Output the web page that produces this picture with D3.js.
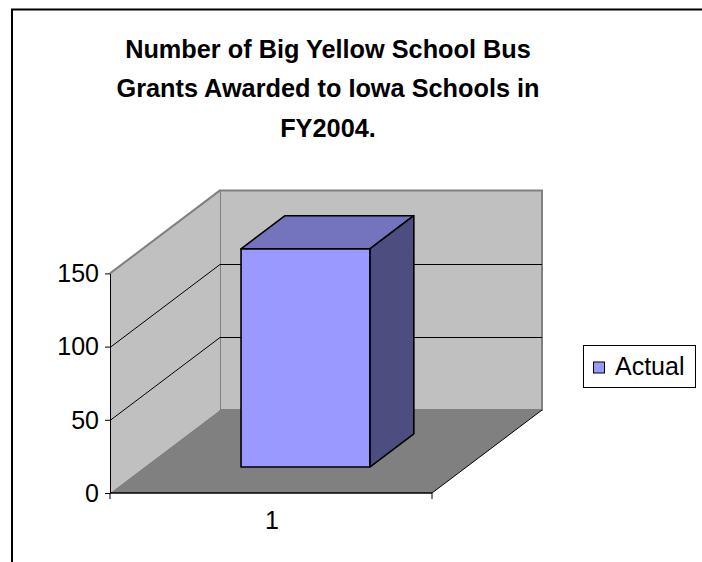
<!DOCTYPE html>
<html>
<head>
<meta charset="utf-8">
<script src="https://cdn.jsdelivr.net/npm/d3@7"></script>
<style>
  html, body { margin: 0; padding: 0; background: #fff; }
  svg { display: block; }
  text { font-family: Arial, "Liberation Sans", sans-serif; fill: #000; }
</style>
</head>
<body>
<svg id="chart" width="702" height="562"></svg>
<script>
// ---- data ----
const titleLines = ["Number of Big Yellow School Bus", "Grants Awarded to Iowa Schools in", "FY2004."];
const categories = ["1"];
const seriesName = "Actual";
const actualValues = [149];
const yTicks = [0, 50, 100, 150];
const gridValues = [50, 100];

// ---- layout ----
const svg = d3.select("#chart");
const W = 702, H = 562;
const depthX = 110, depthY = -83;          // 3D floor depth offset
const barDepthStart = 0.313, barDepthEnd = 0.713;

const x = d3.scaleBand().domain(categories).range([110, 432]).paddingInner(0.6).paddingOuter(0.3);
const y = d3.scaleLinear().domain([0, 150]).range([493, 273.4]);

// outer border
svg.append("rect").attr("x", 12).attr("y", 9.5).attr("width", W + 20).attr("height", H + 20)
  .attr("fill", "#fff").attr("stroke", "#000").attr("stroke-width", 2);

// title
svg.append("g").selectAll("text").data(titleLines).join("text")
  .attr("x", 328).attr("y", (d, i) => 58 + i * 39.3)
  .attr("text-anchor", "middle").attr("font-weight", "bold").attr("font-size", 25.3)
  .text(d => d);

const x0 = x.range()[0], x1 = x.range()[1];
const yTop = y(150), yBase = y(0);
const line = d3.line();

// back wall
svg.append("path")
  .attr("d", line([[x0 + depthX, yTop + depthY], [x1 + depthX, yTop + depthY], [x1 + depthX, yBase + depthY], [x0 + depthX, yBase + depthY]]) + "Z")
  .attr("fill", "#C0C0C0").attr("stroke", "#808080").attr("stroke-width", 2);
// left wall
svg.append("path")
  .attr("d", line([[x0, yTop], [x0 + depthX, yTop + depthY], [x0 + depthX, yBase + depthY], [x0, yBase]]) + "Z")
  .attr("fill", "#C0C0C0").attr("stroke", "none");
svg.append("path")
  .attr("d", line([[x0, yTop], [x0 + depthX, yTop + depthY]]))
  .attr("fill", "none").attr("stroke", "#808080").attr("stroke-width", 2);
// floor
svg.append("path")
  .attr("d", line([[x0, yBase], [x1, yBase], [x1 + depthX, yBase + depthY], [x0 + depthX, yBase + depthY]]) + "Z")
  .attr("fill", "#808080").attr("stroke", "none");
svg.append("path")
  .attr("d", line([[x1, yBase], [x1 + depthX, yBase + depthY]]))
  .attr("fill", "none").attr("stroke", "#000").attr("stroke-width", 1);

// gridlines
const grid = svg.append("g").attr("fill", "none").attr("stroke", "#000").attr("stroke-width", 1);
gridValues.forEach(v => {
  const yy = Math.round(y(v)) + 0.5;
  grid.append("path").attr("d", line([[x0, yy], [x0 + depthX, yy + depthY], [x1 + depthX, yy + depthY]]));
});

// bar
const bar = svg.append("g").attr("stroke", "#000").attr("stroke-width", 1.6).attr("stroke-linejoin", "round");
categories.forEach((c, i) => {
  const v = actualValues[i];
  const fx0 = x(c) + depthX * barDepthStart, fx1 = x(c) + x.bandwidth() + depthX * barDepthStart;
  const fyTop = y(v) + depthY * barDepthStart, fyBot = y(0) + depthY * barDepthStart;
  const dx = depthX * (barDepthEnd - barDepthStart), dy = depthY * (barDepthEnd - barDepthStart);
  // top face
  bar.append("path").attr("fill", "#7373BE")
    .attr("d", line([[fx0, fyTop], [fx1, fyTop], [fx1 + dx, fyTop + dy], [fx0 + dx, fyTop + dy]]) + "Z");
  // side face
  bar.append("path").attr("fill", "#4D4D7F")
    .attr("d", line([[fx1, fyTop], [fx1 + dx, fyTop + dy], [fx1 + dx, fyBot + dy], [fx1, fyBot]]) + "Z");
  // front face
  bar.append("path").attr("fill", "#9999FF")
    .attr("d", line([[fx0, fyTop], [fx1, fyTop], [fx1, fyBot], [fx0, fyBot]]) + "Z");
});

// y axis
const yAxis = svg.append("g").attr("transform", `translate(${x0},0)`)
  .call(d3.axisLeft(y).tickValues(yTicks).tickSize(5).tickPadding(6).tickSizeOuter(0));
yAxis.select(".domain").attr("stroke", "#000");
yAxis.selectAll("text").attr("font-size", 25).attr("font-family", "Arial, 'Liberation Sans', sans-serif").attr("dy", "0.33em");

// x axis
const xAxis = svg.append("g").attr("transform", `translate(0,${yBase})`);
xAxis.append("path").attr("d", line([[x0, 0], [x1, 0]])).attr("stroke", "#000").attr("stroke-width", 1.5);
[x0, x1].forEach(xx => xAxis.append("path").attr("d", line([[xx, 0], [xx, 6]])).attr("stroke", "#000"));
xAxis.selectAll("text.cat").data(categories).join("text").attr("class", "cat")
  .attr("x", d => x(d) + x.bandwidth() / 2 + 1).attr("y", 36).attr("text-anchor", "middle")
  .attr("font-size", 25).text(d => d);

// legend
const lg = svg.append("g");
lg.append("rect").attr("x", 583.5).attr("y", 345.5).attr("width", 112).attr("height", 42)
  .attr("fill", "#fff").attr("stroke", "#000").attr("stroke-width", 1);
lg.append("rect").attr("x", 593.5).attr("y", 362).attr("width", 11).attr("height", 11)
  .attr("fill", "#9999FF").attr("stroke", "#000").attr("stroke-width", 1);
lg.append("text").attr("x", 615).attr("y", 375).attr("font-size", 25).text(seriesName);
</script>
</body>
</html>
